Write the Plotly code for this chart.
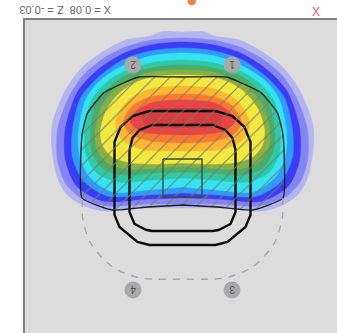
import plotly.graph_objects as go

# Iso-dose bands, outermost first: half outlines (offset from centre line, depth)
band_colors = ["#b4b4f0", "#8585f2", "#3b3df5", "#2f9cfb", "#35e2f2", "#2fc9a6", "#4dab68",
               "#86b046", "#f2e83f", "#fdb731", "#fb7a33", "#ef4141", "#d43c3e"]
band_1 = [(0,32),(22,32),(32,36),(57,40),(80,52),(100,67),(117,90),(130,123),(131,145),(125,178),(115,195),(100,205),(80,211),(40,208),(0,208)]
band_2 = [(0,38),(30,40),(57,47),(80,59),(100,76),(115,100),(125,130),(125,160),(117,183),(100,199),(75,206),(35,204),(0,204)]
band_3 = [(0,42),(32,45),(58,53),(85,70),(105,92),(117,128),(117,160),(106,186),(80,201),(35,199),(0,198)]
band_4 = [(0,48),(32,51),(60,60),(85,78),(102,98),(110,130),(110,157),(99,181),(75,196),(35,195),(0,193)]
band_5 = [(0,53),(32,56),(62,67),(84,82),(97,100),(104,132),(103,155),(93,177),(70,192),(35,190),(0,187)]
band_6 = [(0,60),(32,63),(60,72),(79,85),(92,102),(98,132),(97,152),(87,172),(65,182),(30,180),(0,178)]
band_7 = [(0,65),(32,68),(58,76),(75,89),(87,105),(92,132),(91,150),(80,168),(60,175),(30,173),(0,172)]
band_8 = [(0,70),(30,72),(54,80),(70,92),(81,107),(87,130),(86,148),(75,163),(55,169),(25,168),(0,167)]
band_9 = [(0,75),(30,77),(50,84),(65,95),(76,110),(82,130),(80,145),(70,157),(50,163),(25,164),(0,163)]
band_10 = [(0,86),(32,89),(54,100),(67,122),(62,138),(42,149),(0,151)]
band_11 = [(0,94),(32,97),(50,106),(59,122),(52,134),(32,141),(0,143)]
band_12 = [(0,100),(32,103),(47,112),(52,122),(42,131),(24,134),(0,135)]
band_13 = [(0,108),(30,110),(40,116),(38,123),(24,127),(0,128)]
bands = [band_1, band_2, band_3, band_4, band_5, band_6, band_7, band_8, band_9, band_10, band_11, band_12, band_13]

hatched_outline = [(0,77),(44,77),(59,83),(79,93),(95,113),(100.5,135),(100.5,198),(70,210),(35,207),(0,205)]
outer_ring = [(0,111),(33,111),(50,116),(62,127),(68,142),(68,215),(63,227),(45,242),(33,245),(0,245)]
inner_ring = [(0,125),(30,125),(43,130),(50,138),(53,150),(53,212),(48,224),(36,230),(30,231),(0,231)]
dashed_arc = [(100,198),(100,217),(92,243),(70,267),(42,278),(0,279)]
square_x = [-19.5, 19.5, 19.5, -19.5, -19.5]
square_y = [159, 159, 197, 197, 159]

marker_x = [49.5, -49.5, 49.5, -49.5]
marker_y = [65, 65, 290, 290]
marker_labels = ["1", "2", "3", "4"]

title_text = "X = 0.08  Z = -0.03"
corner_text = "X"
top_glyph = "●"


def mirrored(half):
    xs = [p[0] for p in half] + [-p[0] for p in reversed(half)]
    ys = [p[1] for p in half] + [p[1] for p in reversed(half)]
    return xs, ys


fig = go.Figure()

for pts, col in zip(bands, band_colors):
    xs, ys = mirrored(pts)
    fig.add_trace(go.Scatter(x=xs, y=ys, mode="lines", fill="toself", fillcolor=col,
                             line=dict(color=col, width=0.5, shape="spline", smoothing=0.8)))

xs, ys = mirrored(outer_ring)
fig.add_trace(go.Scatter(x=xs, y=ys, mode="lines", line=dict(color="#0c0c0c", width=2.4)))
xs, ys = mirrored(inner_ring)
fig.add_trace(go.Scatter(x=xs, y=ys, mode="lines", line=dict(color="#0c0c0c", width=2.4)))

xs, ys = mirrored(hatched_outline)
fig.add_trace(go.Scatter(x=xs, y=ys, mode="lines", fill="toself", fillcolor="rgba(0,0,0,0)",
                         fillpattern=dict(shape="/", size=11, solidity=0.1,
                                          fgcolor="#737a6c", bgcolor="rgba(0,0,0,0)", fgopacity=0.9),
                         line=dict(color="#15201a", width=1.3, shape="spline", smoothing=0.4)))

fig.add_trace(go.Scatter(x=square_x, y=square_y, mode="lines", line=dict(color="#3c4a40", width=1.4)))

xs = [p[0] for p in dashed_arc] + [-p[0] for p in reversed(dashed_arc)]
ys = [p[1] for p in dashed_arc] + [p[1] for p in reversed(dashed_arc)]
fig.add_trace(go.Scatter(x=xs, y=ys, mode="lines",
                         line=dict(color="#a6a6a6", width=1.4, dash="7px,7px", shape="spline", smoothing=0.8)))

fig.add_trace(go.Scatter(x=marker_x, y=marker_y, mode="markers",
                         marker=dict(size=17, color="#a9a9ab", line=dict(width=0))))

for mx, my, lab in zip(marker_x, marker_y, marker_labels):
    fig.add_annotation(x=mx, y=my, text=lab, showarrow=False, textangle=180,
                       font=dict(size=10, color="#555555", family="Liberation Sans"))

fig.add_annotation(xref="paper", yref="paper", x=-0.0256, y=1.032, xanchor="left", yanchor="middle",
                   text=title_text, showarrow=False, textangle=180,
                   font=dict(size=11, color="#666666", family="Liberation Sans"))
fig.add_annotation(xref="paper", yref="paper", x=0.933, y=1.025, xanchor="center", yanchor="middle",
                   text=corner_text, showarrow=False,
                   font=dict(size=12, color="#e2566a", family="Liberation Sans"))
fig.add_annotation(xref="paper", yref="paper", x=0.535, y=1.062, xanchor="center", yanchor="middle",
                   text=top_glyph, showarrow=False,
                   font=dict(size=11, color="#e8844a", family="DejaVu Sans"))

fig.update_layout(
    width=337, height=333, margin=dict(l=25, r=0, t=20, b=0),
    paper_bgcolor="white", plot_bgcolor="#dcdcdc", showlegend=False, hovermode=False,
    xaxis=dict(range=[-157.5, 154.5], showgrid=False, zeroline=False, showticklabels=False,
               ticks="", showline=True, linecolor="#808080", linewidth=1.5, side="top"),
    yaxis=dict(range=[333, 20], showgrid=False, zeroline=False, showticklabels=False,
               ticks="", showline=True, linecolor="#808080", linewidth=1.5),
)

fig.write_html("out.html", config=dict(displayModeBar=False),
               post_script="document.body.style.margin='0';document.body.style.overflow='hidden';")
